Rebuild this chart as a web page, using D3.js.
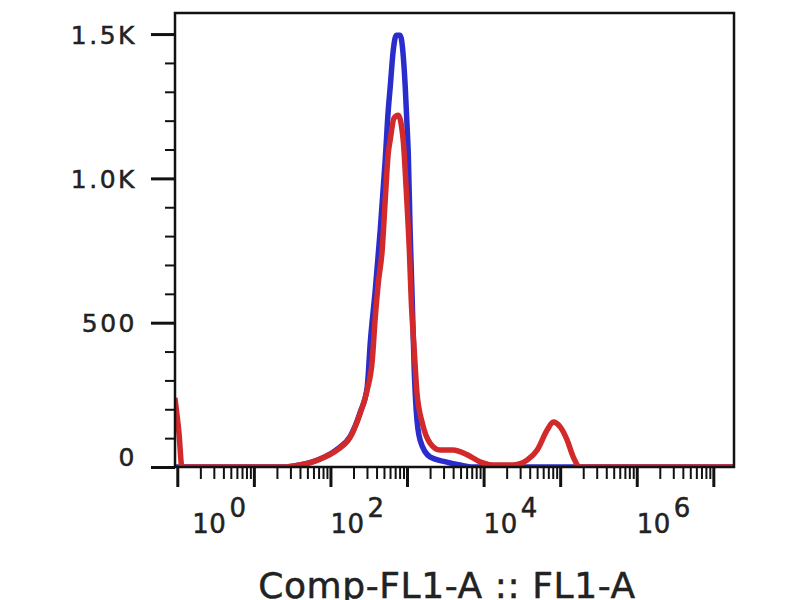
<!DOCTYPE html>
<html>
<head>
<meta charset="utf-8">
<script src="https://cdn.jsdelivr.net/npm/d3@7"></script>
<style>
  html, body { margin: 0; padding: 0; background: #fff; }
  .tick-label { font-family: "DejaVu Sans", Verdana, sans-serif; fill: #222; stroke: #222; stroke-width: 0.5px; }
</style>
</head>
<body>
<div id="plot-histogram"></div>
<script>
// FL1 intensity (x) and event count (y) of the two overlaid histograms
const redFL1 = [0.93, 1.05, 1.15, 22, 32, 68, 123, 182, 245, 302, 352, 385, 421, 474, 519, 569, 603, 676, 767, 891,
  977, 1072, 1135, 1242, 1349, 1585, 1995, 2692, 3981, 6166, 9120, 13490, 24550, 37150, 50120, 67610, 81280,
  100000, 123000, 147900, 182000, 18600000];
const redCount = [240, 120, 0, 0, 3, 24, 59, 104, 187, 267, 371, 520, 637, 752, 925, 1088, 1133, 1209, 1219, 1133,
  959, 752, 578, 405, 256, 152, 83, 59, 59, 42, 17, 7, 7, 24, 59, 128, 156, 139,
  94, 35, 0, 0];

const blueFL1 = [0.93, 22, 32, 68, 123, 182, 245, 302, 331, 385, 447, 519, 569, 603, 661, 724, 813, 891, 948, 1007,
  1038, 1097, 1169, 1242, 1318, 1479, 1995, 3311, 4898, 7244, 18600000];
const blueCount = [0, 0, 3, 24, 62, 107, 190, 277, 430, 613, 821, 1063, 1237, 1316, 1444, 1496, 1496, 1427, 1316, 1167,
  1088, 821, 578, 336, 197, 94, 35, 17, 7, 0, 0];

// axis ticks
const xLabelTicks = [1, 1e2, 1e4, 1e6];
const xMajorTicks = [1, 1e1, 1e2, 1e3, 1e4, 1e5, 1e6, 1e7];
const yMajorTicks = [0, 500, 1000, 1500];
const yTickLabels = ["0", "500", "1.0K", "1.5K"];
const xTitle = "Comp-FL1-A :: FL1-A";

//------------------------1. PREPARATION------------------------//
const width = 800;
const height = 600;
const plotLeft = 175, plotRight = 734, plotTop = 13, plotBottom = 467;

const svg = d3.select("#plot-histogram").append("svg")
  .attr("width", width)
  .attr("height", height);

//----------------------------SCALES----------------------------//
const xScale = d3.scaleLog()
  .domain([Math.pow(10, -0.03), Math.pow(10, 7.27)])
  .range([plotLeft, plotRight]);
const yScale = d3.scaleLinear()
  .domain([0, 1573])
  .range([plotBottom, plotTop]);

// minor ticks: 2..9 inside each decade, every 100 counts on y
const xMinorTicks = [];
xMajorTicks.forEach(d => {
  for (let k = 2; k < 10; k++) {
    const v = d * k;
    if (v < xScale.domain()[1]) xMinorTicks.push(v);
  }
});
const yMinorTicks = d3.range(100, 1573, 100).filter(v => v % 500 !== 0);

//----------------------------LINES-----------------------------//
const line = d3.line()
  .x(d => xScale(d[0]))
  .y(d => yScale(d[1]))
  .curve(d3.curveMonotoneX);

const slices = [
  {name: "blue", color: "#2a2ccc", values: d3.zip(blueFL1, blueCount)},
  {name: "red", color: "#d22a2a", values: d3.zip(redFL1, redCount)}
];

//-------------------------2. DRAWING---------------------------//
svg.append("clipPath")
  .attr("id", "plot-clip")
  .append("rect")
  .attr("x", plotLeft)
  .attr("y", plotTop)
  .attr("width", plotRight - plotLeft)
  .attr("height", plotBottom - plotTop);

svg.append("g")
  .attr("clip-path", "url(#plot-clip)")
  .selectAll("path")
  .data(slices)
  .enter()
  .append("path")
  .attr("fill", "none")
  .attr("stroke", d => d.color)
  .attr("stroke-width", 5.5)
  .attr("stroke-linejoin", "round")
  .attr("d", d => line(d.values));

//-----------------------------AXES-----------------------------//
const xMajorAxis = d3.axisBottom(xScale).tickValues(xMajorTicks).tickFormat("").tickSize(20).tickSizeOuter(0);
const xMinorAxis = d3.axisBottom(xScale).tickValues(xMinorTicks).tickFormat("").tickSize(12).tickSizeOuter(0);
const yMajorAxis = d3.axisLeft(yScale).tickValues(yMajorTicks).tickFormat("").tickSize(24).tickSizeOuter(0);
const yMinorAxis = d3.axisLeft(yScale).tickValues(yMinorTicks).tickFormat("").tickSize(10).tickSizeOuter(0);

[[xMinorAxis, 2], [xMajorAxis, 3]].forEach(a => {
  svg.append("g")
    .attr("transform", "translate(0," + plotBottom + ")")
    .call(a[0])
    .call(g => g.select(".domain").remove())
    .selectAll("line").attr("stroke", "#111").attr("stroke-width", a[1]);
});

[[yMinorAxis, 2], [yMajorAxis, 3]].forEach(a => {
  svg.append("g")
    .attr("transform", "translate(" + plotLeft + ",0)")
    .call(a[0])
    .call(g => g.select(".domain").remove())
    .selectAll("line").attr("stroke", "#111").attr("stroke-width", a[1]);
});

// frame
svg.append("rect")
  .attr("x", plotLeft)
  .attr("y", plotTop)
  .attr("width", plotRight - plotLeft)
  .attr("height", plotBottom - plotTop)
  .attr("fill", "none")
  .attr("stroke", "#111")
  .attr("stroke-width", 2.5);

// y labels
svg.append("g")
  .selectAll("text")
  .data(yMajorTicks)
  .enter()
  .append("text")
  .attr("class", "tick-label")
  .attr("x", plotLeft - 38)
  .attr("y", d => yScale(d))
  .attr("dy", d => d === 0 ? "-0.05em" : "0.38em")
  .style("font-size", "25px")
  .style("letter-spacing", "2.5px")
  .style("text-anchor", "end")
  .text((d, i) => yTickLabels[i]);

// x labels, 10 with superscript exponent
const xLabels = svg.append("g")
  .selectAll("text")
  .data(xLabelTicks)
  .enter()
  .append("text")
  .attr("class", "tick-label")
  .attr("x", (d, i) => xScale(d) + (i === 0 ? 15 : 0))
  .attr("y", 533)
  .style("font-size", "26px")
  .style("letter-spacing", "0.5px");

xLabels.append("tspan").text("10");
xLabels.append("tspan")
  .attr("dx", 3)
  .attr("dy", -16)
  .text(d => Math.round(Math.log10(d)));

// x title
svg.append("text")
  .attr("class", "tick-label")
  .attr("x", 447)
  .attr("y", 598)
  .style("font-size", "36px")
  .style("letter-spacing", "0.6px")
  .style("text-anchor", "middle")
  .text(xTitle);
</script>
</body>
</html>
